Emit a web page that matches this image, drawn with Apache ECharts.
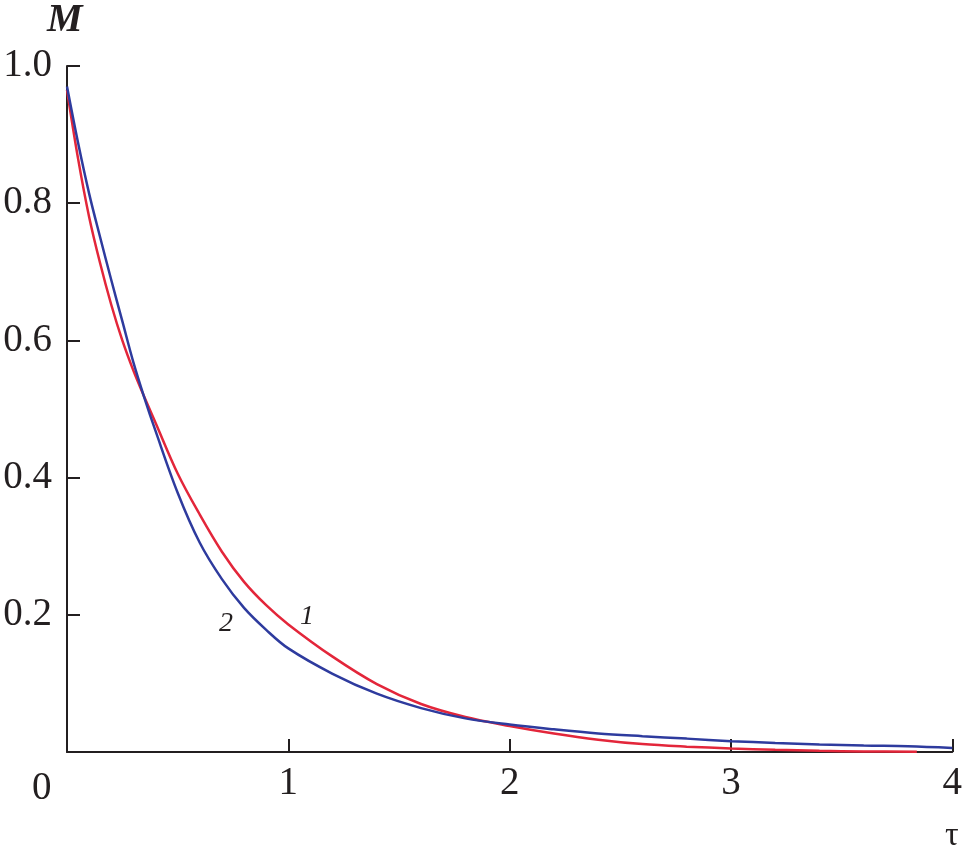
<!DOCTYPE html>
<html>
<head>
<meta charset="utf-8">
<script src="https://cdn.jsdelivr.net/npm/echarts@6/dist/echarts.min.js"></script>
<style>
  html, body { margin: 0; padding: 0; background: #ffffff; }
  #chart { width: 965px; height: 858px; }
</style>
</head>
<body>
<div id="chart"></div>
<script>
// Curve 1 (red)
var tau1 = [0, 0.05, 0.1, 0.15, 0.2, 0.25, 0.3, 0.35, 0.4, 0.5, 0.6, 0.7, 0.8, 0.9, 1.0, 1.2, 1.4, 1.6, 1.8, 2.0, 2.2, 2.4, 2.6, 2.8, 3.0, 3.2, 3.4, 3.6, 3.84];
var m1   = [0.965, 0.865, 0.78, 0.712, 0.652, 0.6, 0.556, 0.517, 0.48, 0.406, 0.346, 0.292, 0.248, 0.214, 0.186, 0.139, 0.099, 0.07, 0.051, 0.038, 0.027, 0.018, 0.0115, 0.0078, 0.0052, 0.0032, 0.0017, 0.0009, 0.0005];
// Curve 2 (blue)
var tau2 = [0, 0.05, 0.1, 0.15, 0.2, 0.25, 0.3, 0.35, 0.4, 0.5, 0.6, 0.7, 0.8, 0.9, 1.0, 1.2, 1.4, 1.6, 1.8, 2.0, 2.2, 2.4, 2.6, 2.8, 3.0, 3.2, 3.4, 3.6, 3.8, 4.0];
var m2   = [0.97, 0.888, 0.814, 0.75, 0.688, 0.628, 0.568, 0.516, 0.468, 0.378, 0.305, 0.252, 0.21, 0.178, 0.151, 0.114, 0.085, 0.064, 0.049, 0.04, 0.033, 0.027, 0.023, 0.0195, 0.0158, 0.0132, 0.011, 0.0093, 0.0085, 0.006];
// Axis ticks
var xTicks = { min: 0, max: 4, interval: 1 };
var yTicks = { min: 0, max: 1, interval: 0.2 };
// Text
var yName = 'M', xName = 'τ', originLabel = '0';
var curveLabels = ['1', '2'];

function pairs(xs, ys) { return xs.map(function (x, i) { return [x, ys[i]]; }); }

var axisColor = '#231f20';
var serif = '"Liberation Serif", "DejaVu Serif", serif';

var chart = echarts.init(document.getElementById('chart'), null, { renderer: 'canvas' });
var option = {
  backgroundColor: '#ffffff',
  animation: false,
  grid: { left: 67, right: 10, top: 66, bottom: 106, containLabel: false },
  xAxis: {
    type: 'value', min: xTicks.min, max: xTicks.max, interval: xTicks.interval,
    axisLine: { show: true, lineStyle: { color: axisColor, width: 2 } },
    axisTick: { show: true, inside: true, length: 13, lineStyle: { color: axisColor, width: 2 } },
    splitLine: { show: false },
    axisLabel: {
      margin: 12, color: axisColor, fontFamily: serif, fontSize: 39,
      formatter: function (v) { return v === 0 ? '' : String(v); }
    }
  },
  yAxis: {
    type: 'value', min: yTicks.min, max: yTicks.max, interval: yTicks.interval,
    axisLine: { show: true, lineStyle: { color: axisColor, width: 2 } },
    axisTick: { show: true, inside: true, length: 13, lineStyle: { color: axisColor, width: 2 } },
    splitLine: { show: false },
    axisLabel: {
      margin: 15, color: axisColor, fontFamily: serif, fontSize: 39,
      formatter: function (v) { return v === 0 ? '' : v.toFixed(1); }
    }
  },
  series: [
    {
      name: curveLabels[0], type: 'line', data: pairs(tau1, m1), smooth: 0.35,
      showSymbol: false, lineStyle: { color: '#e3263a', width: 2.5 }, z: 3
    },
    {
      name: curveLabels[1], type: 'line', data: pairs(tau2, m2), smooth: 0.35,
      showSymbol: false, lineStyle: { color: '#2e3b9e', width: 2.5 }, z: 4
    }
  ],
  graphic: [
    { type: 'text', left: 47, top: 1, style: { text: yName, font: 'italic bold 40px ' + serif, fill: axisColor } },
    { type: 'text', left: 945, top: 819, style: { text: xName, font: '34px ' + serif, fill: axisColor } },
    { type: 'text', left: 32, top: 769, style: { text: originLabel, font: '39px ' + serif, fill: axisColor } },
    { type: 'text', left: 300, top: 603, style: { text: curveLabels[0], font: 'italic 28px ' + serif, fill: axisColor } },
    { type: 'text', left: 219, top: 610, style: { text: curveLabels[1], font: 'italic 28px ' + serif, fill: axisColor } }
  ]
};
chart.setOption(option);
</script>
</body>
</html>
